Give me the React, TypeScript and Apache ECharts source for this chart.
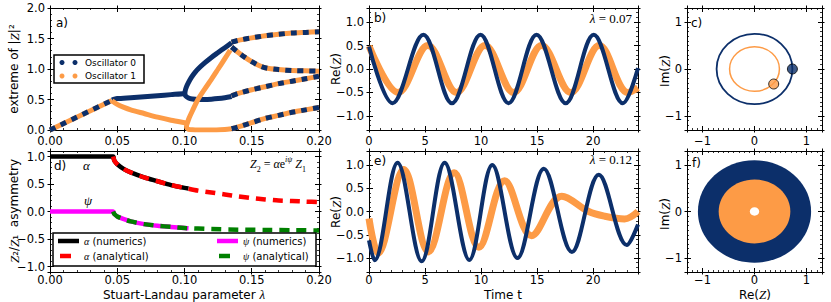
import React, { useEffect, useRef } from 'react';
import * as echarts from 'echarts';

const BLUE = '#0c2f6a';
const ORANGE = '#fd9b46';
const SANS = 'DejaVu Sans';
const SERIF = 'Liberation Serif';

// ---------- panel a : extreme of |Z|^2 vs lambda ----------
const aSharedRise = [[0, 0.0], [0.046, 0.485]];
const aSharedTop = [[0.135, 1.44], [0.14, 1.47], [0.15, 1.51], [0.16, 1.545], [0.17, 1.57], [0.18, 1.59], [0.19, 1.6], [0.2, 1.61]];
const aSharedFall = [[0.135, 1.36], [0.14, 1.27], [0.145, 1.19], [0.15, 1.12], [0.155, 1.06], [0.16, 1.02], [0.17, 0.99], [0.18, 0.975], [0.19, 0.97], [0.2, 0.965]];
const aSharedMid = [[0.135, 0.56], [0.14, 0.6], [0.15, 0.66], [0.16, 0.71], [0.17, 0.76], [0.18, 0.8], [0.19, 0.84], [0.2, 0.88]];
const aSharedLow = [[0.135, 0.02], [0.14, 0.05], [0.15, 0.12], [0.16, 0.19], [0.17, 0.24], [0.18, 0.29], [0.19, 0.33], [0.2, 0.37]];
const aOsc0Branch = [[0.046, 0.49], [0.048, 0.505], [0.05, 0.515], [0.06, 0.53], [0.07, 0.545], [0.08, 0.56], [0.09, 0.58], [0.1, 0.6], [0.1005, 0.61]];
const aOsc0Loop = [[0.135, 1.43], [0.13, 1.35], [0.125, 1.27], [0.12, 1.19], [0.115, 1.1], [0.111, 1.02], [0.108, 0.95], [0.105, 0.86], [0.103, 0.78], [0.1015, 0.71], [0.1005, 0.64], [0.1003, 0.59], [0.101, 0.555], [0.103, 0.525], [0.106, 0.508], [0.11, 0.5], [0.115, 0.5], [0.12, 0.505], [0.125, 0.515], [0.13, 0.53], [0.135, 0.55]];
const aOsc1Branch = [[0.046, 0.48], [0.05, 0.42], [0.055, 0.37], [0.06, 0.33], [0.07, 0.27], [0.08, 0.21], [0.09, 0.16], [0.1, 0.12], [0.1015, 0.115]];
const aOsc1Loop = [[0.134, 1.31], [0.13, 1.17], [0.125, 1.0], [0.12, 0.83], [0.115, 0.67], [0.11, 0.5], [0.106, 0.32], [0.1035, 0.2], [0.1022, 0.12], [0.1015, 0.07], [0.1017, 0.035], [0.103, 0.012], [0.106, 0.003], [0.11, 0.0], [0.12, 0.0], [0.13, 0.01], [0.135, 0.02]];

// ---------- panel d : asymmetry ----------
const dAlphaNum = [[0, 1], [0.047, 1], [0.0475, 0.95], [0.048, 0.92], [0.05, 0.86], [0.055, 0.77], [0.06, 0.71], [0.07, 0.62], [0.08, 0.55], [0.09, 0.48], [0.1, 0.43], [0.103, 0.42]];
const dAlphaAna = [[0.047, 1], [0.0475, 0.95], [0.048, 0.92], [0.05, 0.86], [0.055, 0.77], [0.06, 0.71], [0.07, 0.62], [0.08, 0.55], [0.09, 0.48], [0.1, 0.43], [0.11, 0.38], [0.12, 0.345], [0.13, 0.31], [0.14, 0.275], [0.15, 0.245], [0.16, 0.22], [0.17, 0.2], [0.18, 0.19], [0.19, 0.18], [0.2, 0.17]];
const dPsiNum = [[0, 0], [0.047, 0], [0.0475, -0.03], [0.048, -0.05], [0.05, -0.09], [0.055, -0.14], [0.06, -0.18], [0.07, -0.23], [0.08, -0.26], [0.09, -0.28], [0.1, -0.3], [0.103, -0.305]];
const dPsiAna = [[0.047, 0], [0.0475, -0.03], [0.048, -0.05], [0.05, -0.09], [0.055, -0.14], [0.06, -0.18], [0.07, -0.23], [0.08, -0.26], [0.09, -0.28], [0.1, -0.3], [0.12, -0.32], [0.14, -0.33], [0.16, -0.335], [0.18, -0.34], [0.2, -0.345]];

// ---------- panel b : Re(Z) time series, lambda = 0.07 (start, extrema, end) ----------
const bOsc0 = [[0, 0.48], [2.1, -0.73], [4.85, 0.73], [7.4, -0.73], [9.95, 0.73], [12.45, -0.73], [14.95, 0.73], [17.55, -0.73], [20.05, 0.73], [22.65, -0.73], [24, 0.02]];
const bOsc1 = [[0, 0.49], [2.6, -0.5], [5.25, 0.5], [7.8, -0.5], [10.35, 0.5], [12.9, -0.5], [15.4, 0.5], [18.0, -0.5], [20.55, 0.5], [23.1, -0.5], [24, -0.4]];

// ---------- panel e : Re(Z) time series, lambda = 0.12 ----------
const eOsc0 = [[0, -0.62], [0.5, -1.05], [2.55, 1.05], [4.7, -1.07], [6.75, 1.05], [8.95, -1.04], [11.0, 1.0], [13.25, -1.0], [15.6, 0.92], [18.1, -0.87], [20.5, 0.79], [23.0, -0.72], [24, -0.28]];
const eOsc1 = [[0, -0.15], [0.8, -0.9], [3.1, 0.9], [5.3, -0.87], [7.6, 0.83], [9.8, -0.77], [12.1, 0.66], [14.5, -0.52], [17.2, 0.33], [19.6, 0.0], [21.0, -0.1], [22.8, -0.16], [24, 0.0]];

// ---------- panel c : orbits [cx, cy, rx, ry] and current states ----------
const cOrbit0 = [0, 0, 0.73, 0.75];
const cOrbit1 = [0, 0, 0.48, 0.475];
const cState0 = [0.73, 0.0];
const cState1 = [0.37, -0.32];

// ---------- panel f : filled regions [cx, cy, rx, ry] ----------
const fRegion0 = [0, 0, 1.09, 1.1];
const fRegion1 = [0, 0, 0.69, 0.685];
const fHole = [0, 0, 0.09, 0.09];

const grids = [
  { left: 50, top: 8, width: 269, height: 122 },   // a
  { left: 50, top: 151, width: 269, height: 121 }, // d
  { left: 369, top: 8, width: 269, height: 122 },  // b
  { left: 369, top: 151, width: 269, height: 121 },// e
  { left: 687, top: 8, width: 135, height: 122 },  // c
  { left: 687, top: 151, width: 135, height: 121 },// f
];

const minus = (s: string) => s.replace('-', '\u2212');
const aligned = (v: number, step: number) => Math.abs(v / step - Math.round(v / step)) < 1e-6;

function axesFor(gi: number, dim: 'x' | 'y', min: number, max: number, step: number, minorSplit: number, fmt: (v: number) => string, labelMargin: number) {
  const pos = dim === 'x' ? ['bottom', 'top'] : ['left', 'right'];
  const base: any = {
    gridIndex: gi, type: 'value', min, max, minInterval: step, maxInterval: step,
    splitLine: { show: false }, minorSplitLine: { show: false },
  };
  const line = { show: true, onZero: false, lineStyle: { color: '#000', width: 1 } };
  const inner = { show: true, inside: true, length: 4, lineStyle: { color: '#000', width: 1 } };
  const outer = { show: true, inside: false, length: 2.5, lineStyle: { color: '#000', width: 1 } };
  const minor = { show: true, splitNumber: minorSplit, length: 2, lineStyle: { color: '#000', width: 0.8 } };
  return [
    {
      ...base, position: pos[0], axisLine: line, axisTick: inner, minorTick: minor,
      axisLabel: {
        show: true, color: '#000', fontFamily: SANS, fontSize: 11.5, margin: labelMargin,
        formatter: (v: number) => (aligned(v, step) ? fmt(v) : ''),
      },
    },
    { ...base, position: pos[0], axisLine: { show: false, onZero: false }, axisTick: outer, minorTick: { show: false }, axisLabel: { show: false } },
    { ...base, position: pos[1], axisLine: line, axisTick: inner, minorTick: minor, axisLabel: { show: false } },
    { ...base, position: pos[1], axisLine: { show: false, onZero: false }, axisTick: outer, minorTick: { show: false }, axisLabel: { show: false } },
  ];
}

const f2 = (v: number) => minus(v.toFixed(2));
const f1 = (v: number) => minus(v.toFixed(1));
const f0 = (v: number) => minus(v.toFixed(0));

function lineS(gi: number, data: number[][], color: string, width: number, opts: any = {}) {
  return {
    type: 'line', xAxisIndex: gi * 4, yAxisIndex: gi * 4, data,
    showSymbol: false, symbol: 'none', silent: true, clip: true,
    smooth: opts.smooth ?? 0.25,
    lineStyle: { color, width, type: opts.dash ?? 'solid', cap: 'butt', join: 'round' },
    z: opts.z ?? 2,
  };
}

function ellipseS(gi: number, item: number[], style: any, z: number) {
  return {
    type: 'custom', xAxisIndex: gi * 4, yAxisIndex: gi * 4, data: [item], z, silent: true, clip: true,
    renderItem: (_p: any, api: any) => {
      const c = api.coord([api.value(0), api.value(1)]);
      const e = api.coord([api.value(0) + api.value(2), api.value(1) + api.value(3)]);
      return {
        type: 'ellipse',
        shape: { cx: c[0], cy: c[1], rx: Math.abs(e[0] - c[0]), ry: Math.abs(e[1] - c[1]) },
        style,
      };
    },
  };
}

function txt(x: number, y: number, text: string, extra: any = {}) {
  return {
    type: 'text', x, y, z: 100, rotation: extra.rotation ?? 0,
    style: {
      text, fill: '#000', font: extra.font ?? `12px "${SANS}"`,
      align: extra.align ?? 'left', verticalAlign: 'middle', rich: extra.rich,
    },
  };
}

const richBase = {
  n: { fontFamily: SANS, fontSize: 12, color: '#000' },
  i: { fontFamily: SERIF, fontStyle: 'italic', fontSize: 13, color: '#000' },
};
const lamRich = { i: { fontFamily: SERIF, fontStyle: 'italic', fontSize: 13 }, r: { fontFamily: SERIF, fontSize: 13 } };
const legRich = { i: { fontFamily: SERIF, fontStyle: 'italic', fontSize: 10 }, n: { fontFamily: SANS, fontSize: 10 } };

function buildOption() {
  const xAxis: any[] = [];
  const yAxis: any[] = [];
  // a
  xAxis.push(...axesFor(0, 'x', 0, 0.2, 0.05, 5, f2, 5));
  yAxis.push(...axesFor(0, 'y', 0, 2, 0.5, 5, f1, 5));
  // d
  xAxis.push(...axesFor(1, 'x', 0, 0.2, 0.05, 5, f2, 2));
  yAxis.push(...axesFor(1, 'y', -1.1, 1.1, 0.5, 5, f1, 5));
  // b
  xAxis.push(...axesFor(2, 'x', 0, 24, 5, 5, f0, 5));
  yAxis.push(...axesFor(2, 'y', -1.3, 1.3, 0.5, 5, f1, 5));
  // e
  xAxis.push(...axesFor(3, 'x', 0, 24, 5, 5, f0, 2));
  yAxis.push(...axesFor(3, 'y', -1.3, 1.3, 0.5, 5, f1, 5));
  // c
  xAxis.push(...axesFor(4, 'x', -1.3, 1.3, 1, 10, f0, 5));
  yAxis.push(...axesFor(4, 'y', -1.3, 1.3, 1, 10, f0, 5));
  // f
  xAxis.push(...axesFor(5, 'x', -1.3, 1.3, 1, 10, f0, 2));
  yAxis.push(...axesFor(5, 'y', -1.3, 1.3, 1, 10, f0, 5));

  const dash = [6, 6];
  const series: any[] = [];
  // panel a shared (both oscillators coincide): orange solid under blue dashes
  for (const seg of [aSharedRise, aSharedTop, aSharedFall, aSharedMid, aSharedLow]) {
    series.push(lineS(0, seg, ORANGE, 5, { z: 3 }));
    series.push(lineS(0, seg, BLUE, 5, { z: 4, dash }));
  }
  series.push(lineS(0, aOsc0Branch, BLUE, 5, { z: 2 }));
  series.push(lineS(0, aOsc0Loop, BLUE, 5, { z: 2 }));
  series.push(lineS(0, aOsc1Branch, ORANGE, 5, { z: 2.5 }));
  series.push(lineS(0, aOsc1Loop, ORANGE, 5, { z: 2.5 }));

  // panel d
  series.push(lineS(1, dAlphaNum, '#000', 4.5, { z: 2 }));
  series.push(lineS(1, dAlphaAna, '#ff0000', 4.5, { z: 3, dash: [10, 7] }));
  series.push(lineS(1, dPsiNum, '#ff00ff', 4.5, { z: 2 }));
  series.push(lineS(1, dPsiAna, '#008000', 4.5, { z: 3, dash: [10, 7] }));

  // panel b & e
  series.push(lineS(2, bOsc1, ORANGE, 7, { smooth: 0.36, z: 2 }));
  series.push(lineS(2, bOsc0, BLUE, 4, { smooth: 0.36, z: 3 }));
  series.push(lineS(3, eOsc1, ORANGE, 7, { smooth: 0.36, z: 2 }));
  series.push(lineS(3, eOsc0, BLUE, 4, { smooth: 0.36, z: 3 }));

  // panel c
  series.push(ellipseS(4, cOrbit0, { fill: 'none', stroke: BLUE, lineWidth: 1.8 }, 2));
  series.push(ellipseS(4, cOrbit1, { fill: 'none', stroke: ORANGE, lineWidth: 1.5 }, 2));
  series.push({ type: 'scatter', xAxisIndex: 16, yAxisIndex: 16, data: [cState0], symbolSize: 10, silent: true, itemStyle: { color: BLUE, borderColor: '#000', borderWidth: 1 }, z: 5 });
  series.push({ type: 'scatter', xAxisIndex: 16, yAxisIndex: 16, data: [cState1], symbolSize: 10, silent: true, itemStyle: { color: ORANGE, borderColor: '#000', borderWidth: 1 }, z: 5 });

  // panel f
  series.push(ellipseS(5, fRegion0, { fill: BLUE, stroke: 'none' }, 2));
  series.push(ellipseS(5, fRegion1, { fill: ORANGE, stroke: 'none' }, 3));
  series.push(ellipseS(5, fHole, { fill: '#fff', stroke: 'none' }, 4));

  const graphic: any[] = [
    // panel labels
    txt(56, 23, 'a)'), txt(374, 18, 'b)'), txt(691, 23, 'c)'),
    txt(54, 166, 'd)'), txt(374, 161, 'e)'), txt(692, 163, 'f)'),
    // lambda labels
    txt(632, 18, '{i|λ}{r| = 0.07}', { align: 'right', rich: lamRich }),
    txt(632, 159, '{i|λ}{r| = 0.12}', { align: 'right', rich: lamRich }),
    // alpha / psi
    txt(83, 165, '{i|α}', { rich: { i: { fontFamily: SERIF, fontStyle: 'italic', fontSize: 13 } } }),
    txt(84, 200, '{i|ψ}', { rich: { i: { fontFamily: SERIF, fontStyle: 'italic', fontSize: 13 } } }),
    txt(250, 164, '{i|Z}{s|2}{r| = }{i|α}{r|e}{p|iψ}{i| Z}{s|1}', {
      rich: {
        i: { fontFamily: SERIF, fontStyle: 'italic', fontSize: 12, lineHeight: 18, verticalAlign: 'middle' },
        r: { fontFamily: SERIF, fontSize: 12, lineHeight: 18, verticalAlign: 'middle' },
        s: { fontFamily: SERIF, fontSize: 8, lineHeight: 18, verticalAlign: 'bottom' },
        p: { fontFamily: SERIF, fontStyle: 'italic', fontSize: 8, lineHeight: 18, verticalAlign: 'top' },
      },
    }),
    // axis titles
    txt(14, 69, '{n|extreme of |}{i|Z}{n||²}', { align: 'center', rotation: Math.PI / 2, rich: richBase }),
    txt(14, 211, '{i|Z}{n|₂/}{i|Z}{n|₁  asymmetry}', { align: 'center', rotation: Math.PI / 2, rich: richBase }),
    txt(336, 69, '{n|Re(}{i|Z}{n|)}', { align: 'center', rotation: Math.PI / 2, rich: richBase }),
    txt(336, 212, '{n|Re(}{i|Z}{n|)}', { align: 'center', rotation: Math.PI / 2, rich: richBase }),
    txt(665, 71, '{n|Im(}{i|Z}{n|)}', { align: 'center', rotation: Math.PI / 2, rich: richBase }),
    txt(665, 214, '{n|Im(}{i|Z}{n|)}', { align: 'center', rotation: Math.PI / 2, rich: richBase }),
    txt(184, 294.5, '{n|Stuart-Landau parameter }{i|λ}', { align: 'center', rich: richBase }),
    txt(503, 294.5, 'Time t', { align: 'center' }),
    txt(755, 294.5, '{n|Re(}{i|Z}{n|)}', { align: 'center', rich: richBase }),
    // legend a
    { type: 'rect', z: 99, shape: { x: 54, y: 55, width: 90, height: 28 }, style: { fill: '#fff', stroke: '#000', lineWidth: 1.5 } },
    { type: 'circle', z: 100, shape: { cx: 62, cy: 62.5, r: 2.5 }, style: { fill: BLUE } },
    { type: 'circle', z: 100, shape: { cx: 75, cy: 62.5, r: 2.5 }, style: { fill: BLUE } },
    { type: 'circle', z: 100, shape: { cx: 62, cy: 76, r: 2.5 }, style: { fill: ORANGE } },
    { type: 'circle', z: 100, shape: { cx: 75, cy: 76, r: 2.5 }, style: { fill: ORANGE } },
    txt(85, 62.5, 'Oscillator 0', { font: `9px "${SANS}"` }),
    txt(85, 76, 'Oscillator 1', { font: `9px "${SANS}"` }),
    // legend d
    { type: 'rect', z: 99, shape: { x: 53, y: 233, width: 263, height: 33 }, style: { fill: '#fff', stroke: '#000', lineWidth: 1.5 } },
    { type: 'line', z: 100, shape: { x1: 58, y1: 241, x2: 79, y2: 241 }, style: { stroke: '#000', lineWidth: 4.5 } },
    { type: 'line', z: 100, shape: { x1: 60, y1: 256, x2: 71, y2: 256 }, style: { stroke: '#ff0000', lineWidth: 4.5 } },
    { type: 'line', z: 100, shape: { x1: 217, y1: 241, x2: 238, y2: 241 }, style: { stroke: '#ff00ff', lineWidth: 4.5 } },
    { type: 'line', z: 100, shape: { x1: 219, y1: 256, x2: 230, y2: 256 }, style: { stroke: '#008000', lineWidth: 4.5 } },
    txt(84, 241, '{i|α}{n| (numerics)}', { rich: legRich }),
    txt(84, 256, '{i|α}{n| (analytical)}', { rich: legRich }),
    txt(243, 241, '{i|ψ}{n| (numerics)}', { rich: legRich }),
    txt(243, 256, '{i|ψ}{n| (analytical)}', { rich: legRich }),
  ];

  return {
    animation: false,
    backgroundColor: '#fff',
    grid: grids,
    xAxis,
    yAxis,
    series,
    graphic,
  };
}

export default function App() {
  const ref = useRef<HTMLDivElement>(null);
  useEffect(() => {
    document.body.style.margin = '0';
    const chart = echarts.init(ref.current!, null, { renderer: 'svg' });
    chart.setOption(buildOption() as any);
    return () => chart.dispose();
  }, []);
  return <div ref={ref} style={{ width: 831, height: 302 }} />;
}
